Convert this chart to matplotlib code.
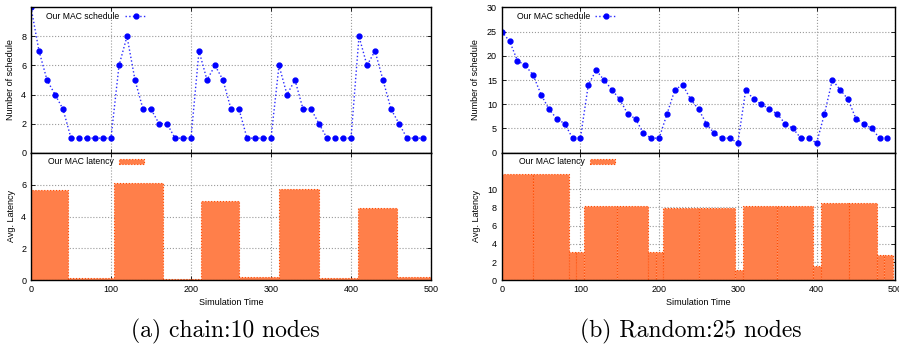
import numpy as np
import matplotlib
matplotlib.use("Agg")
import matplotlib.pyplot as plt

plt.rcParams['font.family'] = ['Liberation Sans', 'DejaVu Sans']

# --- data ---
sched_time = list(range(0, 500, 10))

chain_sched = [10, 7, 5, 4, 3, 1, 1, 1, 1, 1,
               1, 6, 8, 5, 3, 3, 2, 2, 1, 1,
               1, 7, 5, 6, 5, 3, 3, 1, 1, 1,
               1, 6, 4, 5, 3, 3, 2, 1, 1, 1,
               1, 8, 6, 7, 5, 3, 2, 1, 1, 1]

rand_sched = [25, 23, 19, 18, 16, 12, 9, 7, 6, 3,
              3, 14, 17, 15, 13, 11, 8, 7, 4, 3,
              3, 8, 13, 14, 11, 9, 6, 4, 3, 3,
              2, 13, 11, 10, 9, 8, 6, 5, 3, 3,
              2, 8, 15, 13, 11, 7, 6, 5, 3, 3]

chain_lat_edges = [0, 46, 104, 165, 212, 260, 310, 360, 409, 457, 500]
chain_lat = [5.65, 0.12, 6.1, 0.08, 4.96, 0.23, 5.7, 0.16, 4.52, 0.19]

rand_lat_edges = [0, 40, 85.5, 95, 105, 146, 186, 196, 205, 251, 296, 306,
                  350, 396, 406, 441, 477, 486, 497]
rand_lat = [11.7, 11.7, 3.07, 3.07, 8.1, 8.1, 3.07, 3.07, 7.95, 7.95, 1.13,
            8.13, 8.13, 1.57, 8.53, 8.53, 2.78, 2.78]

panels = [
    dict(sched=chain_sched, edges=chain_lat_edges, lat=chain_lat,
         sched_lim=10, sched_ticks=[0, 2, 4, 6, 8],
         lat_lim=8, lat_ticks=[0, 2, 4, 6],
         left=31, right=431, ylab_x=-0.04, cap_x=225.6,
         caption="(a) chain:10 nodes"),
    dict(sched=rand_sched, edges=rand_lat_edges, lat=rand_lat,
         sched_lim=30, sched_ticks=[0, 5, 10, 15, 20, 25, 30],
         lat_lim=14, lat_ticks=[0, 2, 4, 6, 8, 10],
         left=501.7, right=895.3, ylab_x=-0.054, cap_x=691,
         caption="(b) Random:25 nodes"),
]

W, H = 899, 349
FS = 6.5
LEG_FS = 6.2
bar_face = '#FF7F4A'
bar_edge = '#FF4A00'
grid_kw = dict(color='#9a9a9a', linestyle=':', linewidth=0.8)

fig = plt.figure(figsize=(W / 100, H / 100), dpi=100)

y_top, y_mid, y_bot = 7.3, 152.7, 280.3

def style_axes(ax):
    for s in ax.spines.values():
        s.set_linewidth(1.0)
        s.set_color('black')
    ax.tick_params(direction='in', length=3, width=0.6, top=True, right=True,
                   labelsize=FS, pad=3.5)
    ax.set_axisbelow(True)
    ax.grid(True, **grid_kw)

for p in panels:
    x0 = p['left'] / W
    w = (p['right'] - p['left']) / W

    # --- schedule count (top) ---
    ax1 = fig.add_axes([x0, (H - y_mid) / H, w, (y_mid - y_top) / H])
    ax1.plot(sched_time, p['sched'], linestyle=':', color='#2a2aff', linewidth=1.0,
             marker='o', markersize=3.5, markerfacecolor='#0000ff',
             markeredgecolor='#0000ff', label='Our MAC schedule')
    ax1.set_xlim(0, 500)
    ax1.set_ylim(0, p['sched_lim'])
    ax1.set_xticks([0, 100, 200, 300, 400, 500])
    ax1.set_yticks(p['sched_ticks'])
    style_axes(ax1)
    ax1.tick_params(labelbottom=False)
    ax1.set_ylabel('Number of schedule', fontsize=FS)
    ax1.yaxis.set_label_coords(p['ylab_x'], 0.5)
    ax1.legend(loc='upper left', bbox_to_anchor=(0.038, 0.97), frameon=False,
               markerfirst=False, fontsize=LEG_FS, handlelength=2.6,
               handletextpad=0.6, borderpad=0, borderaxespad=0)

    # --- average latency (bottom) ---
    ax2 = fig.add_axes([x0, (H - y_bot) / H, w, (y_bot - y_mid) / H])
    edges = np.array(p['edges'], dtype=float)
    ax2.bar(edges[:-1], p['lat'], width=np.diff(edges), align='edge',
            color=bar_face, edgecolor=bar_edge, linestyle=':', linewidth=0.8,
            label='Our MAC latency')
    ax2.set_xlim(0, 500)
    ax2.set_ylim(0, p['lat_lim'])
    ax2.set_xticks([0, 100, 200, 300, 400, 500])
    ax2.set_yticks(p['lat_ticks'])
    style_axes(ax2)
    ax2.set_ylabel('Avg. Latency', fontsize=FS)
    ax2.yaxis.set_label_coords(p['ylab_x'] + 0.002, 0.5)
    ax2.set_xlabel('Simulation Time', fontsize=FS, labelpad=2.5)
    ax2.legend(loc='upper left', bbox_to_anchor=(0.043, 0.965), frameon=False,
               markerfirst=False, fontsize=LEG_FS, handlelength=2.9, handleheight=0.55,
               handletextpad=0.6, borderpad=0, borderaxespad=0)

    fig.text(p['cap_x'] / W, (H - 331) / H, p['caption'], ha='center', va='center',
             fontsize=17, family='cmr10')

fig.savefig('out.png', dpi=100)
